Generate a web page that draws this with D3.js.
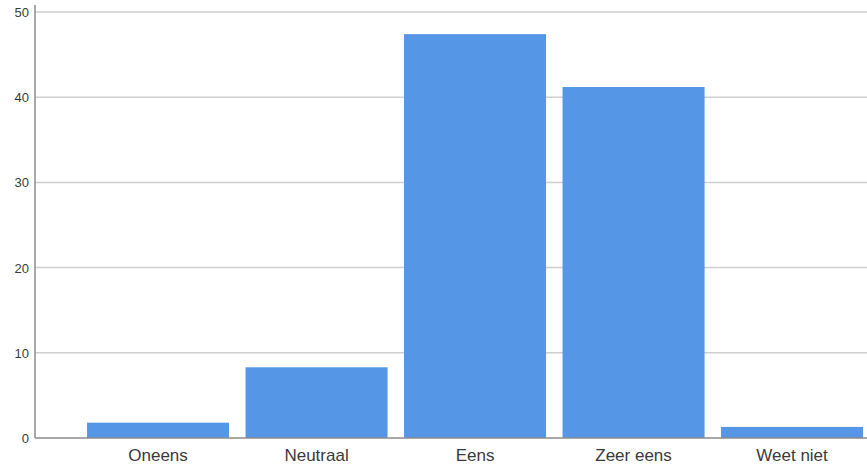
<!DOCTYPE html>
<html><head><meta charset="utf-8">
<script src="https://cdn.jsdelivr.net/npm/d3@7"></script>
<style>body{margin:0;background:#fff;}svg{display:block;}</style>
</head><body><svg id="c" width="867" height="466"></svg>
<script>
const categories = ["Oneens", "Neutraal", "Eens", "Zeer eens", "Weet niet"];
const values = [1.8, 8.3, 47.4, 41.2, 1.3];
const yTicks = [0, 10, 20, 30, 40, 50];

const svg = d3.select("#c");
const W = 867, H = 466;
const axisX = 35, y0 = 438, y50 = 12;

const y = d3.scaleLinear().domain([0, 50]).range([y0, y50]);
const x = d3.scaleBand().domain(categories).range([78.8, 871.3]).paddingInner(0.104).paddingOuter(0.052);

// gridlines
svg.append("g").selectAll("line").data(yTicks.filter(d => d > 0)).join("line")
  .attr("x1", axisX).attr("x2", W).attr("y1", d => y(d)).attr("y2", d => y(d))
  .attr("stroke", "#cfcfcf").attr("stroke-width", 1.5);

// bars
svg.append("g").selectAll("rect").data(values).join("rect")
  .attr("x", (d, i) => x(categories[i]))
  .attr("width", x.bandwidth())
  .attr("y", d => y(d))
  .attr("height", d => y(0) - y(d))
  .attr("fill", "#5596e6");

// baseline
svg.append("line").attr("x1", axisX).attr("x2", W).attr("y1", y0).attr("y2", y0)
  .attr("stroke", "#8c8c8c").attr("stroke-width", 1.5);
// y axis line
svg.append("line").attr("x1", axisX).attr("x2", axisX).attr("y1", 5).attr("y2", y0)
  .attr("stroke", "#8c8c8c").attr("stroke-width", 1.5);

// y tick labels
svg.append("g").selectAll("text").data(yTicks).join("text")
  .attr("x", 29).attr("y", d => y(d) + 5)
  .attr("text-anchor", "end")
  .attr("font-family", "Liberation Sans, Arial, sans-serif")
  .attr("font-size", 13).attr("fill", "#3a3a3a")
  .text(d => d);

// x labels
svg.append("g").selectAll("text").data(categories).join("text")
  .attr("x", d => x(d) + x.bandwidth() / 2).attr("y", 461)
  .attr("text-anchor", "middle")
  .attr("font-family", "Liberation Sans, Arial, sans-serif")
  .attr("font-size", 17).attr("fill", "#3a3a3a")
  .text(d => d);
</script></body></html>
